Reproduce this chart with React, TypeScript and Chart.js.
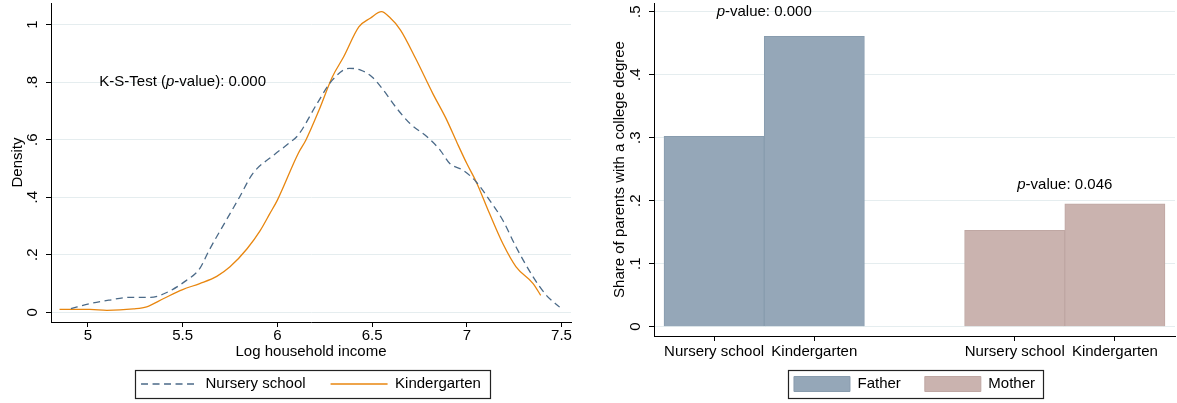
import React, { useEffect, useRef } from 'react';
import { Chart, registerables } from 'chart.js';

Chart.register(...registerables);

const FONT = "'Liberation Sans', Arial, Helvetica, sans-serif";

// ---- Left panel: kernel densities of log household income ----
const nurseryX = [4.91, 5.01, 5.11, 5.22, 5.33, 5.41, 5.52, 5.59, 5.64, 5.73, 5.8, 5.87, 5.98, 6.06, 6.11, 6.21, 6.29, 6.38, 6.44, 6.5, 6.56, 6.63, 6.7, 6.79, 6.86, 6.91, 6.98, 7.05, 7.12, 7.19, 7.26, 7.35, 7.42, 7.49];
const nurseryY = [0.013, 0.03, 0.042, 0.052, 0.052, 0.067, 0.111, 0.152, 0.216, 0.32, 0.4, 0.482, 0.546, 0.587, 0.616, 0.726, 0.807, 0.848, 0.842, 0.818, 0.772, 0.709, 0.656, 0.61, 0.563, 0.517, 0.494, 0.453, 0.39, 0.32, 0.227, 0.123, 0.059, 0.018];
const kinderX = [4.85, 5.01, 5.1, 5.24, 5.31, 5.4, 5.5, 5.59, 5.68, 5.75, 5.84, 5.91, 5.96, 6.0, 6.11, 6.15, 6.22, 6.29, 6.35, 6.43, 6.49, 6.55, 6.59, 6.65, 6.73, 6.82, 6.89, 6.95, 7.0, 7.05, 7.12, 7.19, 7.26, 7.35, 7.39];
const kinderY = [0.01, 0.01, 0.007, 0.012, 0.019, 0.048, 0.079, 0.1, 0.125, 0.158, 0.221, 0.285, 0.343, 0.39, 0.552, 0.598, 0.703, 0.818, 0.888, 0.992, 1.022, 1.045, 1.027, 0.981, 0.882, 0.761, 0.674, 0.587, 0.517, 0.453, 0.343, 0.239, 0.158, 0.1, 0.059];
const densityTicks = [0, 0.2, 0.4, 0.6, 0.8, 1];
const densityTickLabels = ['0', '.2', '.4', '.6', '.8', '1'];
const incomeTicks = [5, 5.5, 6, 6.5, 7, 7.5];
const incomeTickLabels = ['5', '5.5', '6', '6.5', '7', '7.5'];
const ksPValue = '0.000';

// ---- Right panel: share of parents with a college degree ----
const barCategories = ['Nursery school', 'Kindergarten'];
const fatherValues = [0.302, 0.461];
const motherValues = [0.153, 0.195];
const shareTicks = [0, 0.1, 0.2, 0.3, 0.4, 0.5];
const shareTickLabels = ['0', '.1', '.2', '.3', '.4', '.5'];
const fatherPValue = '0.000';
const motherPValue = '0.046';

const font = { family: FONT, size: 15 };

function drawRich(ctx: CanvasRenderingContext2D, parts: { t: string; i?: boolean }[], cx: number, cy: number) {
  const widths = parts.map((p) => {
    ctx.font = (p.i ? 'italic ' : '') + '15px ' + FONT;
    return ctx.measureText(p.t).width;
  });
  const total = widths.reduce((a, b) => a + b, 0);
  let x = cx - total / 2;
  ctx.textBaseline = 'middle';
  ctx.textAlign = 'left';
  ctx.fillStyle = '#000';
  parts.forEach((p, k) => {
    ctx.font = (p.i ? 'italic ' : '') + '15px ' + FONT;
    ctx.fillText(p.t, x, cy);
    x += widths[k];
  });
}

// Places the legend row at a given text-centre y and draws a frame round it.
const legendFrame = {
  id: 'legendFrame',
  afterLayout(chart: any, _args: any, opts: any) {
    const lg = chart.legend;
    if (!lg || opts.textY == null) return;
    const pad = lg.options.labels.padding;
    lg.top = opts.textY - pad - 7.5;
    lg.bottom = opts.textY + 18;
    lg.height = lg.bottom - lg.top;
  },
  afterDraw(chart: any, _args: any, opts: any) {
    const lg = chart.legend;
    if (!lg || !lg.legendHitBoxes || !lg.legendHitBoxes.length) return;
    const hb = lg.legendHitBoxes;
    const l = Math.min(...hb.map((h: any) => h.left)) - opts.padLeft;
    const r = Math.max(...hb.map((h: any) => h.left + h.width)) + opts.padRight;
    const t = Math.min(...hb.map((h: any) => h.top)) - opts.padY;
    const b = Math.max(...hb.map((h: any) => h.top + h.height)) + opts.padY;
    const ctx = chart.ctx;
    ctx.save();
    ctx.strokeStyle = '#222';
    ctx.lineWidth = 1.2;
    ctx.strokeRect(Math.round(l) + 0.5, Math.round(t) + 0.5, Math.round(r - l), Math.round(b - t));
    ctx.restore();
  },
};

const textNotes = {
  id: 'textNotes',
  afterDatasetsDraw(chart: any, _args: any, opts: any) {
    const ctx = chart.ctx;
    const xs = chart.scales.x;
    const ys = chart.scales.y;
    ctx.save();
    (opts.items || []).forEach((it: any) => {
      drawRich(ctx, it.parts, xs.getPixelForValue(it.x), ys.getPixelForValue(it.y));
    });
    ctx.restore();
  },
};

const lineLegendLabels = (chart: any) => {
  const items = (Chart.defaults.plugins.legend.labels as any).generateLabels(chart);
  items.forEach((it: any) => {
    const ds = chart.data.datasets[it.datasetIndex];
    it.lineDash = ds.borderDash || [];
    it.lineWidth = ds.borderWidth;
    it.strokeStyle = ds.borderColor;
    it.pointStyle = 'line';
  });
  return items;
};

export default function App() {
  const leftRef = useRef<HTMLCanvasElement | null>(null);
  const rightRef = useRef<HTMLCanvasElement | null>(null);

  useEffect(() => {
    Chart.defaults.font.family = FONT;
    Chart.defaults.font.size = 15;
    Chart.defaults.color = '#000';

    const left = new Chart(leftRef.current as HTMLCanvasElement, {
      type: 'line',
      data: {
        datasets: [
          {
            label: 'Nursery school',
            data: nurseryX.map((x, i) => ({ x, y: nurseryY[i] })),
            borderColor: '#4b6a88',
            backgroundColor: '#4b6a88',
            borderWidth: 1.3,
            borderDash: [7, 4.5],
            pointRadius: 0,
            cubicInterpolationMode: 'monotone',
            fill: false,
          },
          {
            label: 'Kindergarten',
            data: kinderX.map((x, i) => ({ x, y: kinderY[i] })),
            borderColor: '#e8860f',
            backgroundColor: '#e8860f',
            borderWidth: 1.3,
            pointRadius: 0,
            cubicInterpolationMode: 'monotone',
            fill: false,
          },
        ],
      },
      options: {
        responsive: false,
        animation: false,
        events: [],
        devicePixelRatio: 1,
        layout: { padding: { left: 0, right: 19, top: 3, bottom: 6.5 } },
        scales: {
          x: {
            type: 'linear',
            min: 4.805,
            max: 7.55,
            afterBuildTicks: (s: any) => {
              s.ticks = incomeTicks.map((v) => ({ value: v }));
            },
            afterFit: (s: any) => {
              s.height = 29.5;
              s.paddingLeft = 0;
              s.paddingRight = 0;
            },
            ticks: {
              callback: (_v: any, i: number) => incomeTickLabels[i],
              autoSkip: false,
              maxRotation: 0,
              minRotation: 0,
              padding: 0,
              font,
              color: '#000',
            },
            grid: { drawOnChartArea: false, tickColor: '#000', tickLength: 5 },
            border: { color: '#000', width: 1 },
            title: { display: true, text: 'Log household income', font, color: '#000', padding: { top: 0, bottom: -9.5 } },
          },
          y: {
            type: 'linear',
            min: -0.0337,
            max: 1.075,
            afterBuildTicks: (s: any) => {
              s.ticks = densityTicks.map((v) => ({ value: v }));
            },
            afterFit: (s: any) => {
              s.width = 51;
              s.paddingTop = 0;
              s.paddingBottom = 0;
            },
            ticks: {
              callback: (_v: any, i: number) => densityTickLabels[i],
              autoSkip: false,
              minRotation: 90,
              maxRotation: 90,
              crossAlign: 'center',
              padding: 7,
              font,
              color: '#000',
            },
            grid: { color: '#e5edef', lineWidth: 1, tickColor: '#000', tickLength: 5 },
            border: { color: '#000', width: 1 },
            title: { display: true, text: 'Density', font, color: '#000', padding: { top: 8.5, bottom: 0 } },
          },
        },
        plugins: {
          legend: {
            position: 'bottom',
            fullSize: false,
            maxHeight: 45,
            labels: {
              usePointStyle: true,
              pointStyle: 'line',
              pointStyleWidth: 57,
              padding: 25,
              font,
              color: '#000',
              generateLabels: lineLegendLabels,
            },
          },
          tooltip: { enabled: false },
          legendFrame: { textY: 384, padLeft: 6, padRight: 9, padY: 6.5 },
          textNotes: {
            items: [
              {
                x: 5.5,
                y: 0.8,
                parts: [{ t: 'K-S-Test (' }, { t: 'p', i: true }, { t: '-value): ' + ksPValue }],
              },
            ],
          },
        } as any,
      } as any,
      plugins: [legendFrame, textNotes],
    });

    const groupSize = barCategories.length + 1;
    const right = new Chart(rightRef.current as HTMLCanvasElement, {
      type: 'bar',
      data: {
        datasets: [
          {
            label: 'Father',
            data: fatherValues.map((v, i) => ({ x: i, y: v })),
            backgroundColor: '#95a7b8',
            borderColor: '#889cae',
            borderWidth: 1,
          },
          {
            label: 'Mother',
            data: motherValues.map((v, i) => ({ x: groupSize + i, y: v })),
            backgroundColor: '#cab3af',
            borderColor: '#bfa7a3',
            borderWidth: 1,
          },
        ],
      },
      options: {
        responsive: false,
        animation: false,
        events: [],
        devicePixelRatio: 1,
        datasets: { bar: { barPercentage: 1, categoryPercentage: 1, grouped: false } },
        layout: { padding: { left: 0, right: 2, top: 3, bottom: 7 } },
        scales: {
          x: {
            type: 'linear',
            offset: false,
            min: -0.6,
            max: groupSize + barCategories.length - 1 + 0.6,
            afterBuildTicks: (s: any) => {
              const t: any[] = [];
              [0, 1].forEach((g) => barCategories.forEach((_c, i) => t.push({ value: g * groupSize + i })));
              s.ticks = t;
            },
            afterFit: (s: any) => {
              s.height = 30;
              s.paddingLeft = 0;
              s.paddingRight = 0;
            },
            ticks: {
              callback: (v: any) => barCategories[Number(v) % groupSize],
              autoSkip: false,
              maxRotation: 0,
              minRotation: 0,
              padding: 1.5,
              font,
              color: '#000',
            },
            grid: { offset: false, drawOnChartArea: false, tickColor: '#000', tickLength: 5 },
            border: { color: '#000', width: 1 },
          },
          y: {
            type: 'linear',
            min: -0.01476,
            max: 0.5138,
            afterBuildTicks: (s: any) => {
              s.ticks = shareTicks.map((v) => ({ value: v }));
            },
            afterFit: (s: any) => {
              s.width = 64;
              s.paddingTop = 0;
              s.paddingBottom = 0;
            },
            ticks: {
              callback: (_v: any, i: number) => shareTickLabels[i],
              autoSkip: false,
              minRotation: 90,
              maxRotation: 90,
              crossAlign: 'center',
              padding: 7,
              font,
              color: '#000',
            },
            grid: { color: '#e5edef', lineWidth: 1, tickColor: '#000', tickLength: 5 },
            border: { color: '#000', width: 1 },
            title: {
              display: true,
              text: 'Share of parents with a college degree',
              font,
              color: '#000',
              padding: { top: 21, bottom: 0 },
            },
          },
        },
        plugins: {
          legend: {
            position: 'bottom',
            fullSize: false,
            maxHeight: 30,
            labels: {
              boxWidth: 56,
              boxHeight: 15,
              padding: 24,
              font,
              color: '#000',
            },
          },
          tooltip: { enabled: false },
          legendFrame: { textY: 384, padLeft: 6, padRight: 8, padY: 6.5 },
          textNotes: {
            items: [
              { x: 0.5, y: 0.5, parts: [{ t: 'p', i: true }, { t: '-value: ' + fatherPValue }] },
              { x: groupSize + 0.5, y: 0.225, parts: [{ t: 'p', i: true }, { t: '-value: ' + motherPValue }] },
            ],
          },
        } as any,
      } as any,
      plugins: [legendFrame, textNotes],
    });

    return () => {
      left.destroy();
      right.destroy();
    };
  }, []);

  return (
    <div style={{ position: 'absolute', left: 0, top: 0, width: 1177, height: 403, background: '#fff', overflow: 'hidden' }}>
      <canvas ref={leftRef} width={590} height={403} style={{ position: 'absolute', left: 0, top: 0, width: 590, height: 403 }} />
      <canvas ref={rightRef} width={587} height={403} style={{ position: 'absolute', left: 590, top: 0, width: 587, height: 403 }} />
    </div>
  );
}
